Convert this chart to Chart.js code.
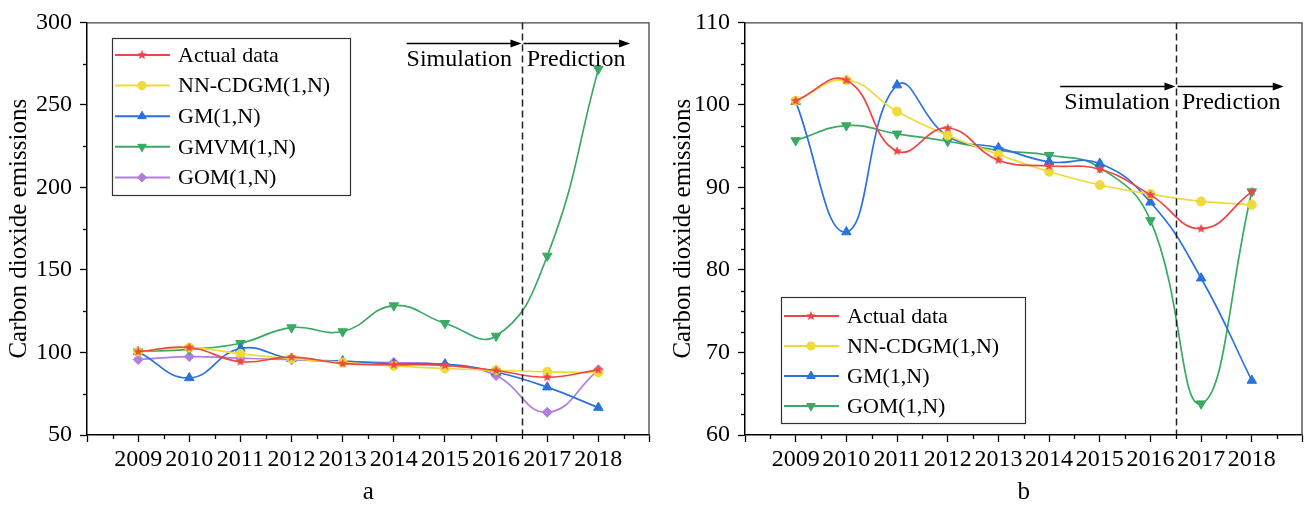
<!DOCTYPE html>
<html><head><meta charset="utf-8">
<script src="https://cdn.jsdelivr.net/npm/chart.js@4.4.1/dist/chart.umd.min.js"></script>
<style>
html,body{margin:0;padding:0;background:#fff;width:1309px;height:505px;overflow:hidden}
#ca{position:absolute;left:0;top:0}
#cb{position:absolute;left:656px;top:0}
</style></head><body>
<canvas id="ca" width="656" height="505"></canvas>
<canvas id="cb" width="653" height="505"></canvas>
<script>
// ---------- data ----------
const years = [2009, 2010, 2011, 2012, 2013, 2014, 2015, 2016, 2017, 2018];
const actualData = [100.5, 103.0, 94.4, 97.2, 93.3, 92.6, 92.2, 89.1, 85.0, 89.5];
const nncdgmData = [100.5, 103.0, 99.2, 96.3, 94.0, 91.9, 90.3, 89.2, 88.3, 87.9];
const gmData     = [100.4, 84.6, 102.4, 96.2, 94.8, 93.1, 92.9, 88.2, 79.0, 66.6];
const gmvmData   = [100.5, 101.9, 105.6, 115.1, 112.7, 128.4, 117.7, 110.0, 158.5, 271.7];
const gomData    = [95.7, 97.5, 96.5, 95.6, 94.5, 93.9, 92.4, 86.0, 63.8, 89.5];
const namesA = ['Actual data', 'NN-CDGM(1,N)', 'GM(1,N)', 'GMVM(1,N)', 'GOM(1,N)'];
const namesB = ['Actual data', 'NN-CDGM(1,N)', 'GM(1,N)', 'GOM(1,N)'];
const yTicksA = [50, 100, 150, 200, 250, 300];
const yTicksB = [60, 70, 80, 90, 100, 110];
const yTitle = 'Carbon dioxide emissions';
const phaseLabels = ['Simulation', 'Prediction'];
const splitYear = 2016.5;

// ---------- styles ----------
const FONT = '"Liberation Serif", "Times New Roman", serif';
const C = {red:'#ee4545', yellow:'#ecdb3a', blue:'#2a72de', green:'#3aa964', purple:'#b27ddf'};

function makeStar(color, r){
  const s = Math.ceil(r*2)+2;
  const c = document.createElement('canvas'); c.width = s; c.height = s;
  const g = c.getContext('2d'); g.fillStyle = color; g.beginPath();
  for (let i=0;i<10;i++){
    const rad = i%2 ? r*0.45 : r;
    const a = -Math.PI/2 + i*Math.PI/5;
    const px = s/2 + rad*Math.cos(a), py = s/2 + rad*Math.sin(a);
    i ? g.lineTo(px,py) : g.moveTo(px,py);
  }
  g.closePath(); g.fill();
  return c;
}
const starImg = makeStar(C.red, 5);

function pts(arr){ return arr.map((v,i)=>({x:years[i], y:v})); }
function ds(label, arr, color, style, radius, rotation){
  return {label, data: pts(arr), borderColor: color, backgroundColor: color,
    borderWidth: 1.7, tension: 0.45, pointStyle: style, pointRadius: radius,
    pointRotation: rotation||0, pointBorderWidth: 1, pointBorderColor: color,
    pointBackgroundColor: color, clip: false};
}

function overlayPlugin(cfg){
  return {
    id: 'overlay',
    afterDraw(chart){
      const ctx = chart.ctx, a = chart.chartArea;
      const xs = chart.scales.x, ys = chart.scales.y;
      ctx.save();
      // frame top/right
      ctx.strokeStyle = '#444'; ctx.lineWidth = 1.3;
      ctx.beginPath();
      ctx.moveTo(a.left, a.top+0.5); ctx.lineTo(a.right-0.5, a.top+0.5); ctx.lineTo(a.right-0.5, a.bottom);
      ctx.stroke();
      // minor ticks
      ctx.strokeStyle = '#000'; ctx.lineWidth = 1.3;
      xs.ticks.forEach(t => {
        if (!Number.isInteger(t.value)) {
          const px = Math.round(xs.getPixelForValue(t.value))+0.5;
          ctx.beginPath(); ctx.moveTo(px, a.bottom); ctx.lineTo(px, a.bottom+4); ctx.stroke();
        }
      });
      ys.ticks.forEach(t => {
        if (!cfg.yMajor.includes(t.value)) {
          const py = Math.round(ys.getPixelForValue(t.value))+0.5;
          ctx.beginPath(); ctx.moveTo(a.left, py); ctx.lineTo(a.left-4, py); ctx.stroke();
        }
      });
      // dashed split line
      const sx = Math.round(xs.getPixelForValue(splitYear))+0.5;
      ctx.strokeStyle = '#222'; ctx.lineWidth = 1.5; ctx.setLineDash([7,4]);
      ctx.beginPath(); ctx.moveTo(sx, a.top); ctx.lineTo(sx, a.bottom); ctx.stroke();
      ctx.setLineDash([]);
      // arrows
      const ay = Math.round(ys.getPixelForValue(cfg.arrowY))+0.5;
      const x0 = xs.getPixelForValue(cfg.arrowStart), x2 = xs.getPixelForValue(cfg.arrowEnd);
      function arrow(xa, xb){
        ctx.strokeStyle = '#000'; ctx.fillStyle = '#000'; ctx.lineWidth = 1.5;
        ctx.beginPath(); ctx.moveTo(xa, ay); ctx.lineTo(xb-8, ay); ctx.stroke();
        ctx.beginPath(); ctx.moveTo(xb, ay); ctx.lineTo(xb-11, ay-4); ctx.lineTo(xb-11, ay+4); ctx.closePath(); ctx.fill();
      }
      arrow(x0, sx-1); arrow(sx+1, x2);
      ctx.font = '24px ' + FONT; ctx.fillStyle = '#000'; ctx.textBaseline = 'middle'; ctx.textAlign = 'left';
      ctx.fillText(phaseLabels[0], xs.getPixelForValue(cfg.simX), ay+16);
      ctx.fillText(phaseLabels[1], xs.getPixelForValue(cfg.predX), ay+16);
      // legend
      const L = cfg.legend;
      ctx.fillStyle = '#fff';
      ctx.fillRect(L.left, L.top, L.width, L.height);
      ctx.strokeStyle = '#333'; ctx.lineWidth = 1.2;
      ctx.strokeRect(L.left+0.5, L.top+0.5, L.width, L.height);
      chart.data.datasets.forEach((d, i) => {
        const ry = L.top + L.first + i*L.step;
        ctx.strokeStyle = d.borderColor; ctx.lineWidth = 2;
        ctx.beginPath(); ctx.moveTo(L.left+3, ry); ctx.lineTo(L.left+58, ry); ctx.stroke();
        ctx.fillStyle = d.backgroundColor; ctx.strokeStyle = d.borderColor; ctx.lineWidth = 1;
        Chart.helpers.drawPoint(ctx, {pointStyle: d.pointStyle, radius: d.pointRadius*0.9, rotation: d.pointRotation, borderWidth: 1}, L.left+30, ry);
        ctx.fillStyle = '#000'; ctx.font = '22px ' + FONT; ctx.textBaseline = 'middle';
        ctx.fillText(d.label, L.left+66, ry+1);
      });
      ctx.restore();
    }
  };
}

function makeOptions(yMin, yMax, yStep, yMajor, yWidth, xTitle, yTitlePad, padRight){
  return {
    responsive: false, animation: false, devicePixelRatio: 1,
    layout: {padding: {top: 22, right: padRight, left: 0, bottom: 0}},
    plugins: {legend: {display: false}, tooltip: {enabled: false}},
    scales: {
      x: {
        type: 'linear', min: 2008, max: 2019,
        afterFit: s => { s.height = 70; },
        ticks: {stepSize: 0.5, autoSkip: false, maxRotation: 0, minRotation: 0, padding: 3,
          color: '#000', font: {family: FONT, size: 24},
          callback: v => years.includes(v) ? String(v) : ''},
        grid: {drawOnChartArea: false, drawTicks: true, tickLength: 7, tickWidth: 1.3,
          tickColor: c => (c.tick && Number.isInteger(c.tick.value)) ? '#000' : 'rgba(0,0,0,0)'},
        border: {display: true, color: '#000', width: 1.5},
        title: {display: true, text: xTitle, color: '#000', font: {family: FONT, size: 25, lineHeight: 1}, padding: {top: 0, bottom: 0}}
      },
      y: {
        type: 'linear', min: yMin, max: yMax,
        afterFit: s => { s.width = yWidth; },
        ticks: {stepSize: yStep, autoSkip: false, padding: 8, color: '#000', font: {family: FONT, size: 24},
          callback: v => yMajor.includes(v) ? String(v) : ''},
        grid: {drawOnChartArea: false, drawTicks: true, tickLength: 7, tickWidth: 1.3,
          tickColor: c => (c.tick && yMajor.includes(c.tick.value)) ? '#000' : 'rgba(0,0,0,0)'},
        border: {display: true, color: '#000', width: 1.5},
        title: {display: true, text: yTitle, color: '#000', font: {family: FONT, size: 25, lineHeight: 1}, padding: {top: yTitlePad, bottom: 0}}
      }
    }
  };
}

// ---------- chart a ----------
new Chart(document.getElementById('ca'), {
  type: 'line',
  data: {datasets: [
    ds(namesA[0], actualData, C.red, starImg, 5),
    ds(namesA[1], nncdgmData, C.yellow, 'circle', 4.5),
    ds(namesA[2], gmData, C.blue, 'triangle', 5.5),
    ds(namesA[3], gmvmData, C.green, 'triangle', 5.5, 180),
    ds(namesA[4], gomData, C.purple, 'rectRot', 5)
  ]},
  options: makeOptions(50, 300, 25, yTicksA, 87, 'a', 7, 4),
  plugins: [overlayPlugin({yMajor: yTicksA, arrowY: 287.3, arrowStart: 2014.25, arrowEnd: 2018.62,
    simX: 2014.25, predX: 2016.6,
    legend: {left: 112, top: 38, width: 238, height: 157, first: 17, step: 30.6}})]
});

// ---------- chart b ----------
new Chart(document.getElementById('cb'), {
  type: 'line',
  data: {datasets: [
    ds(namesB[0], actualData, C.red, starImg, 5),
    ds(namesB[1], nncdgmData, C.yellow, 'circle', 4.5),
    ds(namesB[2], gmData, C.blue, 'triangle', 5.5),
    ds(namesB[3], gomData, C.green, 'triangle', 5.5, 180)
  ]},
  options: makeOptions(60, 110, 2.5, yTicksB, 89, 'b', 15, 1),
  plugins: [overlayPlugin({yMajor: yTicksB, arrowY: 102.25, arrowStart: 2014.22, arrowEnd: 2018.63,
    simX: 2014.3, predX: 2016.62,
    legend: {left: 125, top: 297, width: 244, height: 126, first: 19, step: 30}})]
});
</script>
</body></html>
